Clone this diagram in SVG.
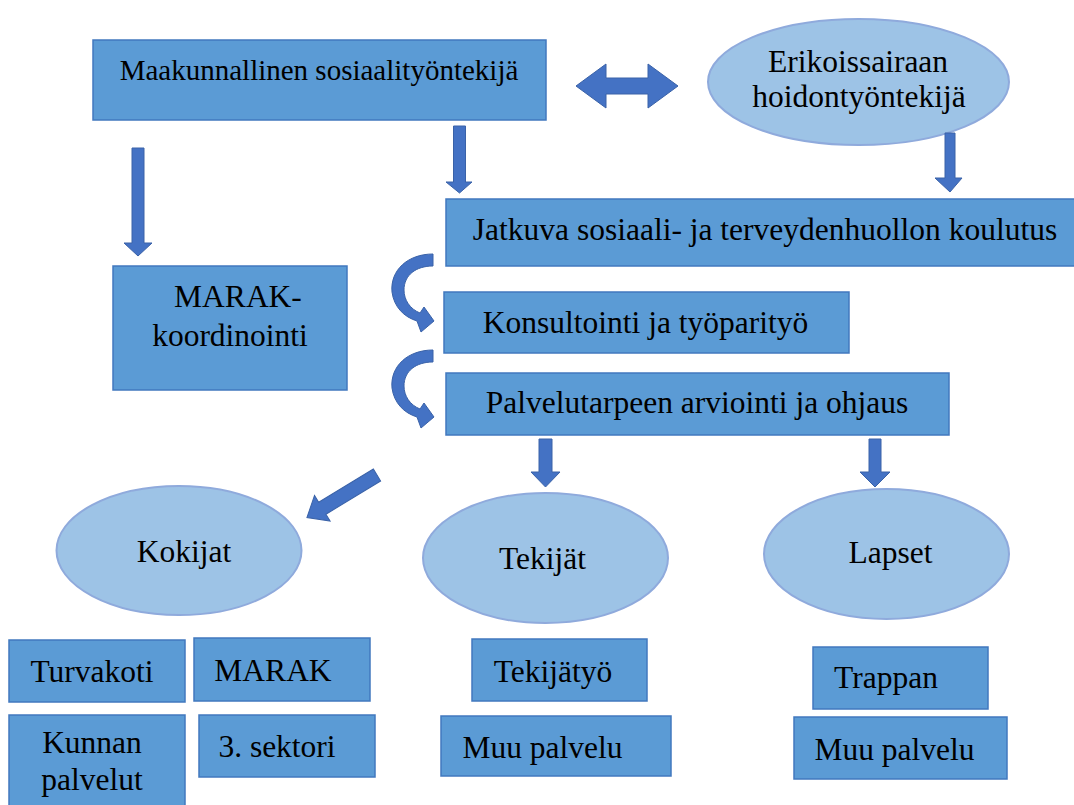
<svg xmlns="http://www.w3.org/2000/svg" width="1074" height="805" viewBox="0 0 1074 805" font-family="Liberation Serif, DejaVu Serif, serif">
<style>
.box{fill:#5B9BD5;stroke:#4178BE;stroke-width:1.5}
.ell{fill:#9DC3E6;stroke:#8FAADC;stroke-width:2}
.arr{fill:#4472C4;stroke:#3A62A8;stroke-width:1}
text{font-family:'Liberation Serif','DejaVu Serif',serif;font-size:31.5px;fill:#000;text-anchor:middle}
.t29{font-size:29px}
</style>
<rect width="1074" height="805" fill="#fff"/>
<g id="n_maakunnallinen"><rect class="box" x="93" y="40" width="453" height="80"/><text class="t29" x="319" y="80">Maakunnallinen sosiaalityöntekijä</text></g>
<g id="n_erikois"><ellipse class="ell" cx="858.5" cy="82" rx="150.5" ry="63"/><text x="858" y="72">Erikoissairaan</text><text x="859" y="107">hoidontyöntekijä</text></g>
<g id="n_jatkuva"><rect class="box" x="446" y="199" width="630" height="67"/><text x="765" y="240">Jatkuva sosiaali- ja terveydenhuollon koulutus</text></g>
<g id="n_marak_koord"><rect class="box" x="113" y="266" width="234" height="124"/><text x="238" y="307">MARAK-</text><text x="230" y="346">koordinointi</text></g>
<g id="n_konsultointi"><rect class="box" x="444" y="292" width="405" height="61"/><text x="645.5" y="333">Konsultointi ja työparityö</text></g>
<g id="n_palvelutarve"><rect class="box" x="446" y="373" width="503" height="62"/><text x="697" y="413">Palvelutarpeen arviointi ja ohjaus</text></g>
<g id="n_kokijat"><ellipse class="ell" cx="179" cy="550.5" rx="122.5" ry="64.5"/><text x="184" y="562">Kokijat</text></g>
<g id="n_tekijat"><ellipse class="ell" cx="545.5" cy="558" rx="122.5" ry="65"/><text x="542.5" y="569">Tekijät</text></g>
<g id="n_lapset"><ellipse class="ell" cx="886.5" cy="554" rx="122.5" ry="65"/><text x="890.5" y="563">Lapset</text></g>
<g id="n_turvakoti"><rect class="box" x="9" y="640" width="176" height="62"/><text x="92" y="682">Turvakoti</text></g>
<g id="n_marak"><rect class="box" x="194" y="638" width="176" height="63"/><text x="273" y="681">MARAK</text></g>
<g id="n_kunnan"><rect class="box" x="9" y="715" width="176" height="100"/><text x="92" y="753">Kunnan</text><text x="92" y="790">palvelut</text></g>
<g id="n_sektori"><rect class="box" x="199" y="715" width="176" height="62"/><text x="277" y="757">3. sektori</text></g>
<g id="n_tekijatyo"><rect class="box" x="472" y="639" width="175" height="62"/><text x="553" y="682">Tekijätyö</text></g>
<g id="n_muu1"><rect class="box" x="441" y="716" width="230" height="60"/><text x="542.5" y="758">Muu palvelu</text></g>
<g id="n_trappan"><rect class="box" x="813" y="647" width="175" height="62"/><text x="886" y="688">Trappan</text></g>
<g id="n_muu2"><rect class="box" x="794" y="717" width="213" height="62"/><text x="894.5" y="760">Muu palvelu</text></g>
<g id="connectors">
<path class="arr" d="M576,86 L606,64 L606,78 L648,78 L648,64 L678,86 L648,108 L648,94 L606,94 L606,108 Z"/>
<path class="arr" d="M132,148 H144 V243 H152 L138,256 L124,243 H132 Z"/>
<path class="arr" d="M453.5,126 H465.5 V182 H472 L459.5,193 L446,182 H453.5 Z"/>
<path class="arr" d="M945,133 H955 V178 H962 L950,192 L935,178 H945 Z"/>
<path class="arr" d="M539,439 H552 V472 H560 L545.5,487 L531,472 H539 Z"/>
<path class="arr" d="M869,439 H881 V472 H890 L875,487 L860,472 H869 Z"/>
<path class="arr" transform="translate(377,475) rotate(148.7)" d="M0,-7 H64 V-15 L82,0 L64,15 V7 H0 Z"/>
<path class="arr" d="M433,254 C408,254 390,270 392,292 C394,307 404,317 417,321 L421,332 L434,321 L424,307 L420,313 C410,309 404,300 404,290 C404,275 416,266 433,266 Z"/>
<path class="arr" transform="translate(0,96)" d="M433,254 C408,254 390,270 392,292 C394,307 404,317 417,321 L421,332 L434,321 L424,307 L420,313 C410,309 404,300 404,290 C404,275 416,266 433,266 Z"/>
</g>
</svg>
